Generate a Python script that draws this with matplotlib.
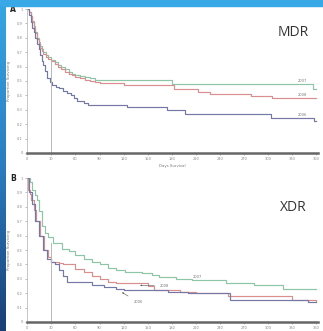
import numpy as np
import matplotlib
matplotlib.use("Agg")
import matplotlib.pyplot as plt
from matplotlib.patches import Rectangle

# ---- data (days, proportion surviving) ----
days_ticks = [0, 30, 60, 90, 120, 150, 180, 210, 240, 270, 300, 330, 360]
y_ticks = [0, 0.1, 0.2, 0.3, 0.4, 0.5, 0.6, 0.7, 0.8, 0.9, 1]
y_tick_labels = ["0", "0.1", "0.2", "0.3", "0.4", "0.5", "0.6", "0.7", "0.8", "0.9", "1"]

# panel A - MDR
mdr_2007_t = [0, 2, 4, 6, 8, 10, 12, 14, 16, 18, 20, 23, 26, 30, 34, 38, 42, 47, 52, 56,
              60, 66, 72, 78, 84, 90, 180, 356, 360]
mdr_2007_s = [1.0, 0.98, 0.95, 0.92, 0.88, 0.84, 0.80, 0.77, 0.74, 0.72, 0.70, 0.68, 0.665,
              0.645, 0.63, 0.61, 0.595, 0.58, 0.565, 0.55, 0.545, 0.535, 0.53, 0.52, 0.51,
              0.505, 0.48, 0.445, 0.445]
mdr_2008_t = [0, 2, 4, 6, 8, 10, 12, 14, 16, 18, 20, 23, 26, 30, 34, 38, 42, 47, 52, 56,
              60, 66, 72, 78, 84, 90, 120, 183, 212, 228, 278, 305, 360]
mdr_2008_s = [1.0, 0.98, 0.95, 0.91, 0.87, 0.83, 0.79, 0.76, 0.73, 0.71, 0.69, 0.67, 0.655,
              0.64, 0.62, 0.60, 0.58, 0.56, 0.55, 0.54, 0.53, 0.52, 0.51, 0.50, 0.49, 0.485,
              0.475, 0.445, 0.425, 0.41, 0.395, 0.385, 0.385]
mdr_2006_t = [0, 2, 4, 6, 8, 10, 12, 14, 16, 18, 20, 22, 25, 28, 31, 36, 40, 45, 50, 55,
              58, 62, 70, 76, 124, 174, 197, 304, 357, 360]
mdr_2006_s = [1.0, 0.96, 0.91, 0.87, 0.84, 0.80, 0.76, 0.72, 0.68, 0.64, 0.61, 0.57, 0.52,
              0.49, 0.47, 0.46, 0.45, 0.43, 0.42, 0.40, 0.38, 0.36, 0.345, 0.335, 0.32,
              0.30, 0.27, 0.245, 0.225, 0.225]

# panel B - XDR
xdr_2007_t = [0, 3, 6, 9, 12, 14, 18, 22, 26, 32, 43, 52, 60, 70, 80, 90, 101, 110, 122,
              143, 155, 164, 185, 205, 247, 282, 318, 360]
xdr_2007_s = [1.0, 0.97, 0.92, 0.88, 0.85, 0.77, 0.67, 0.62, 0.59, 0.546, 0.51, 0.49, 0.465,
              0.44, 0.42, 0.40, 0.377, 0.36, 0.35, 0.34, 0.325, 0.315, 0.30, 0.29, 0.27,
              0.257, 0.227, 0.227]
xdr_2008_t = [0, 1, 3, 5, 8, 11, 16, 21, 26, 30, 40, 45, 60, 70, 80, 90, 100, 110, 150,
              158, 190, 210, 250, 330, 360]
xdr_2008_s = [1.0, 0.92, 0.89, 0.85, 0.78, 0.70, 0.60, 0.50, 0.45, 0.42, 0.41, 0.40, 0.37,
              0.35, 0.32, 0.30, 0.28, 0.27, 0.25, 0.22, 0.21, 0.20, 0.18, 0.15, 0.145]
xdr_2006_t = [0, 2, 6, 10, 14, 19, 25, 30, 35, 40, 45, 50, 80, 95, 110, 120, 175, 200, 252,
              300, 330, 350, 360]
xdr_2006_s = [1.0, 0.90, 0.82, 0.70, 0.60, 0.50, 0.44, 0.42, 0.40, 0.36, 0.32, 0.28, 0.26,
              0.245, 0.23, 0.22, 0.21, 0.20, 0.155, 0.155, 0.15, 0.14, 0.14]

green = "#8cc6a6"
red = "#da8e8e"
blue = "#7478a6"
tick_grey = "#888888"

fig = plt.figure(figsize=(3.23, 3.31), dpi=100)
fig.patch.set_facecolor("white")

# blue slide frame: top band and left gradient band
fig.patches.append(Rectangle((0, 1 - 6 / 331), 1, 6 / 331, transform=fig.transFigure,
                             color="#38a8e6", zorder=0))
band = fig.add_axes([0, 0, 6 / 323, 1 - 6 / 331])
grad = np.linspace(0, 1, 256).reshape(-1, 1)
cmap = matplotlib.colors.LinearSegmentedColormap.from_list(
    "band", ["#35a5e4", "#2a7cc0", "#1a3f74"])
band.imshow(grad, aspect="auto", cmap=cmap)
band.axis("off")


def panel(rect, curves, label, label_y, tag, vline_top, show_xlabel):
    ax = fig.add_axes(rect)
    for t, s, c in curves:
        ax.step(t, s, where="post", color=c, lw=0.85)
    ax.plot([30, 30], [0, vline_top], color="#b8b8b8", lw=0.7)
    ax.set_xlim(0, 362)
    ax.set_ylim(0, 1.0)
    ax.set_xticks(days_ticks)
    ax.set_xticklabels([str(d) for d in days_ticks])
    ax.set_yticks(y_ticks)
    ax.set_yticklabels(y_tick_labels)
    ax.tick_params(axis="both", labelsize=2.6, colors=tick_grey, length=1.2, width=0.4,
                   pad=2)
    for side in ("top", "right"):
        ax.spines[side].set_visible(False)
    ax.spines["left"].set_color("#bdbdbd")
    ax.spines["left"].set_linewidth(0.6)
    ax.spines["bottom"].set_color("#666666")
    ax.spines["bottom"].set_linewidth(1.8)
    ax.set_ylabel("Proportion Surviving", fontsize=2.8, color="#777777", labelpad=4)
    if show_xlabel:
        ax.set_xlabel("Days Survival", fontsize=2.8, color="#777777", labelpad=2)
    ax.text(0.915, label_y, label, transform=ax.transAxes, fontsize=10, color="#333333",
            family="Open Sans", ha="center", va="center")
    ax.text(-0.048, 1.0, tag, transform=ax.transAxes, fontsize=5.5, fontweight="bold",
            color="#222222", ha="center", va="center")
    return ax


axA = panel([0.0845, 0.5378, 0.9, 0.435],
            [(mdr_2007_t, mdr_2007_s, green), (mdr_2008_t, mdr_2008_s, red),
             (mdr_2006_t, mdr_2006_s, blue)],
            "MDR", 0.84, "A", 0.645, True)
axA.text(343, 0.485, "2007", fontsize=2.6, color="#777777", ha="center", va="bottom")
axA.text(343, 0.39, "2008", fontsize=2.6, color="#777777", ha="center", va="bottom")
axA.text(343, 0.25, "2006", fontsize=2.6, color="#777777", ha="center", va="bottom")

axB = panel([0.0845, 0.0272, 0.9, 0.435],
            [(xdr_2007_t, xdr_2007_s, green), (xdr_2008_t, xdr_2008_s, red),
             (xdr_2006_t, xdr_2006_s, blue)],
            "XDR", 0.795, "B", 0.55, False)
axB.text(212, 0.31, "2007", fontsize=2.6, color="#777777", ha="center", va="center")
axB.annotate("2008", xy=(137, 0.255), xytext=(165, 0.25), fontsize=2.6, color="#777777",
             va="center", arrowprops=dict(arrowstyle="-|>", color="#555555", lw=0.4,
                                          mutation_scale=2))
axB.annotate("2006", xy=(115, 0.215), xytext=(132, 0.14), fontsize=2.6, color="#777777",
             va="center", arrowprops=dict(arrowstyle="-|>", color="#555555", lw=0.4,
                                          mutation_scale=2))

fig.savefig("out.png", dpi=100)
